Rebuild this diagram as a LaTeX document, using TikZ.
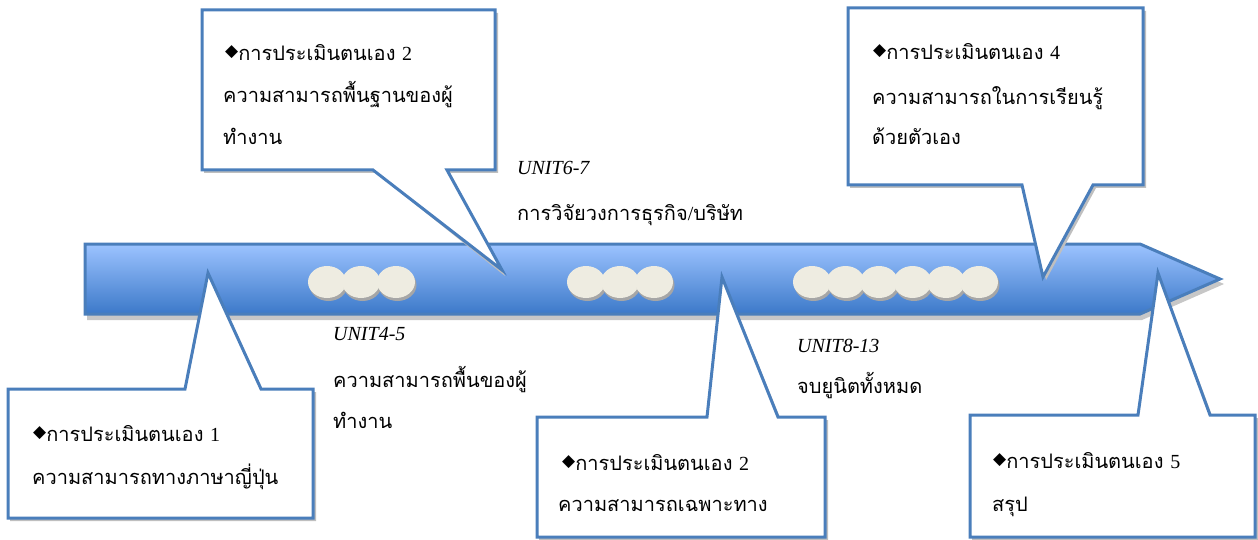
\documentclass[tikz,border=0pt]{standalone}
\usepackage{fontspec}
\setmainfont{Liberation Serif}
\newfontfamily\thai[Script=Thai]{Loma}
\newfontfamily\sym{DejaVu Sans}
\definecolor{bord}{HTML}{4A7EBB}
\definecolor{atop}{HTML}{9CC3FF}
\definecolor{abot}{HTML}{3C79C9}
\definecolor{disc}{HTML}{EEECE1}
\tikzset{
  callout/.style={fill=white,draw=bord,line width=3pt,line join=miter},
  cshadow/.style={fill=black!25},
  txt/.style={anchor=base west,inner sep=0pt,font=\thai\fontsize{20}{20}\selectfont},
  unit/.style={anchor=base west,inner sep=0pt,font=\itshape\fontsize{20}{20}\selectfont},
  discshape/.style={fill=disc},
  discshadow/.style={fill=black!35}
}
\newcommand{\dia}{{\sym\fontsize{17}{17}\selectfont\raisebox{4pt}{◆}}}
\newcommand{\rmn}[1]{{\rmfamily #1}}
\begin{document}
\begin{tikzpicture}[x=1pt,y=-1pt]
\useasboundingbox (0,0) rectangle (1258,540);
% arrow
\fill[black!22] (87,248) -- (1142,248) -- (1224,284) -- (1142,320) -- (87,320) -- cycle;
\shade[top color=atop,bottom color=abot,draw=bord,line width=3pt,line join=miter]
  (85,244) -- (1140,244) -- (1220,279) -- (1140,314) -- (85,314) -- cycle;
% discs
\foreach \x in {327,361,396, 586,620,654, 812,845.5,879,912.5,946,979}{
  \fill[discshadow] (\x+1.5,285) ellipse (19 and 16);
  \fill[discshape] (\x,282) ellipse (19 and 16);
}
% callout 1
\fill[cshadow] (10,392) -- (187,392) -- (210,276) -- (264,392) -- (316,392) -- (316,521) -- (10,521) -- cycle;
\draw[callout] (8,389) -- (185,389) -- (208,273) -- (261,389) -- (313,389) -- (313,518) -- (8,518) -- cycle;
% callout 2
\fill[cshadow] (204,13) -- (498,13) -- (498,173) -- (450,173) -- (505,276) -- (376,173) -- (204,173) -- cycle;
\draw[callout] (202,10) -- (495,10) -- (495,170) -- (447,170) -- (502,270) -- (373,170) -- (202,170) -- cycle;
% callout 3
\fill[cshadow] (539,420) -- (709,420) -- (724,280) -- (781,420) -- (828,420) -- (828,540) -- (539,540) -- cycle;
\draw[callout] (537,417) -- (707,417) -- (722,277) -- (778,417) -- (825,417) -- (825,537) -- (537,537) -- cycle;
% callout 4
\fill[cshadow] (850,11) -- (1146,11) -- (1146,188) -- (1096,188) -- (1046,280) -- (1025,188) -- (850,188) -- cycle;
\draw[callout] (848,8) -- (1143,8) -- (1143,185) -- (1093,185) -- (1043,277) -- (1022,185) -- (848,185) -- cycle;
% callout 5
\fill[cshadow] (972,418) -- (1140,418) -- (1160,276) -- (1213,418) -- (1258,418) -- (1258,540) -- (972,540) -- cycle;
\draw[callout] (970,415) -- (1138,415) -- (1158,273) -- (1210,415) -- (1255,415) -- (1255,537) -- (970,537) -- cycle;
% callout texts
\node[txt] (c1a) at (33,441) {\dia การประเมินตนเอง \rmn{1}};
\node[txt] (c1b) at (32,484) {ความสามารถทางภาษาญี่ปุ่น};
\node[txt] (c2a) at (225,61) {\dia การประเมินตนเอง \rmn{2}};
\node[txt] (c2b) at (223,103) {ความสามารถพื้นฐานของผู้};
\node[txt] (c2c) at (223,145) {ทำงาน};
\node[txt] (c3a) at (562,470) {\dia การประเมินตนเอง \rmn{2}};
\node[txt] (c3b) at (558,511) {ความสามารถเฉพาะทาง};
\node[txt] (c4a) at (873,60) {\dia การประเมินตนเอง \rmn{4}};
\node[txt] (c4b) at (872,105) {ความสามารถในการเรียนรู้};
\node[txt] (c4c) at (872,145) {ด้วยตัวเอง};
\node[txt] (c5a) at (993,468) {\dia การประเมินตนเอง \rmn{5}};
\node[txt] (c5b) at (992,511) {สรุป};
% free texts
\node[unit] (u67) at (517,175) {UNIT6-7};
\node[txt] (t67) at (517,221) {การวิจัยวงการธุรกิจ\rmn{/}บริษัท};
\node[unit] (u45) at (333,340) {UNIT4-5};
\node[txt] (t45a) at (333,387) {ความสามารถพื้นของผู้};
\node[txt] (t45b) at (333,428) {ทำงาน};
\node[unit] (u813) at (797,352) {UNIT8-13};
\node[txt] (t813) at (797,393) {จบยูนิตทั้งหมด};
\end{tikzpicture}
\end{document}
